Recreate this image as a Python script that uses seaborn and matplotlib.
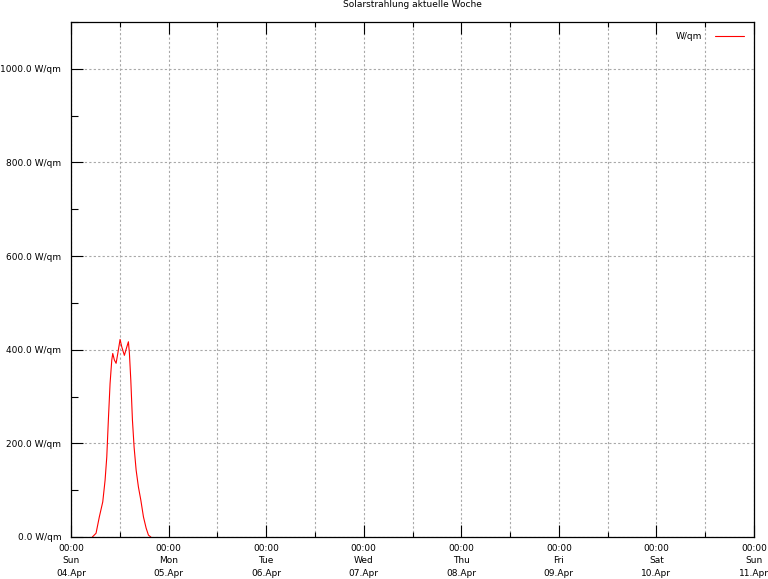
import numpy as np
import pandas as pd
import matplotlib
matplotlib.use("Agg")
import matplotlib.pyplot as plt
import matplotlib.dates as mdates
from matplotlib.ticker import FuncFormatter, MultipleLocator
import seaborn as sns

# Solar radiation readings (hours since Sun 04.Apr 00:00, W/qm)
hours = [5.25, 6.16, 6.97, 7.81, 8.38, 8.80, 9.19, 9.61, 10.03, 10.27, 10.67,
         11.09, 11.51, 12.07, 12.49, 13.13, 13.73, 14.12, 14.37, 14.71, 15.11,
         15.52, 16.02, 16.58, 17.17, 17.82, 18.48, 19.05, 19.64]
radiation = [0, 8, 43, 75, 121, 171, 250, 328, 378, 392, 378,
             371, 392, 422, 406, 388, 406, 417, 392, 335, 250,
             192, 143, 107, 79, 43, 19, 4, 0]

week_start = pd.Timestamp("2021-04-04 00:00")
week_end = pd.Timestamp("2021-04-11 00:00")
title = "Solarstrahlung aktuelle Woche"
series_name = "W/qm"

df = pd.DataFrame({
    "time": week_start + pd.to_timedelta(hours, unit="h"),
    "value": radiation,
})

sns.set_style("white")
plt.rcParams["font.family"] = ["DejaVu Sans"]
plt.rcParams["font.size"] = 6.5
plt.rcParams["text.color"] = "black"
plt.rcParams["xtick.color"] = "black"
plt.rcParams["ytick.color"] = "black"

fig = plt.figure(figsize=(7.68, 5.79), dpi=100)
ax = fig.add_axes([71 / 768, 1 - 537 / 579, (754 - 71) / 768, (537 - 22) / 579])

sns.lineplot(data=df, x="time", y="value", color="#ff0000", linewidth=0.8,
             label=series_name, ax=ax)

ax.set_xlim(week_start, week_end)
ax.set_ylim(0, 1100)

ax.xaxis.set_major_locator(mdates.DayLocator())
ax.xaxis.set_minor_locator(mdates.HourLocator(byhour=[12]))
ax.xaxis.set_major_formatter(mdates.DateFormatter("%H:%M\n%a\n%d.%b"))
ax.yaxis.set_major_locator(MultipleLocator(200))
ax.yaxis.set_minor_locator(MultipleLocator(100))
ax.yaxis.set_major_formatter(FuncFormatter(lambda v, p: f"{v:.1f} W/qm"))

ax.tick_params(axis="x", which="both", direction="in", top=True, bottom=True,
               labelsize=6.5, pad=5, color="black")
ax.tick_params(axis="x", which="major", length=8.5, width=0.8)
ax.tick_params(axis="x", which="minor", length=3.6, width=0.8)
ax.tick_params(axis="y", which="both", direction="in", left=True, right=False,
               labelsize=6.5, pad=7, color="black")
ax.tick_params(axis="y", which="major", length=8.5, width=0.8)
ax.tick_params(axis="y", which="minor", length=5, width=0.8)
for lbl in ax.get_xticklabels():
    lbl.set_linespacing(1.5)

ax.grid(True, axis="x", which="both", color="#a8a8a8", linestyle=(0, (2, 2)), linewidth=0.8)
ax.grid(True, axis="y", which="major", color="#a8a8a8", linestyle=(0, (2, 2)), linewidth=0.8)
ax.set_axisbelow(True)

for s in ax.spines.values():
    s.set_color("black")
    s.set_linewidth(0.9)

ax.set_xlabel("")
ax.set_ylabel("")
ax.set_title(title, fontsize=6.5, pad=11)

leg = ax.legend(loc="upper right", frameon=False, markerfirst=False, fontsize=6.5,
                handlelength=3.2, borderaxespad=0.6, handletextpad=1.4,
                borderpad=0.5)

fig.savefig("out.png", dpi=100)
